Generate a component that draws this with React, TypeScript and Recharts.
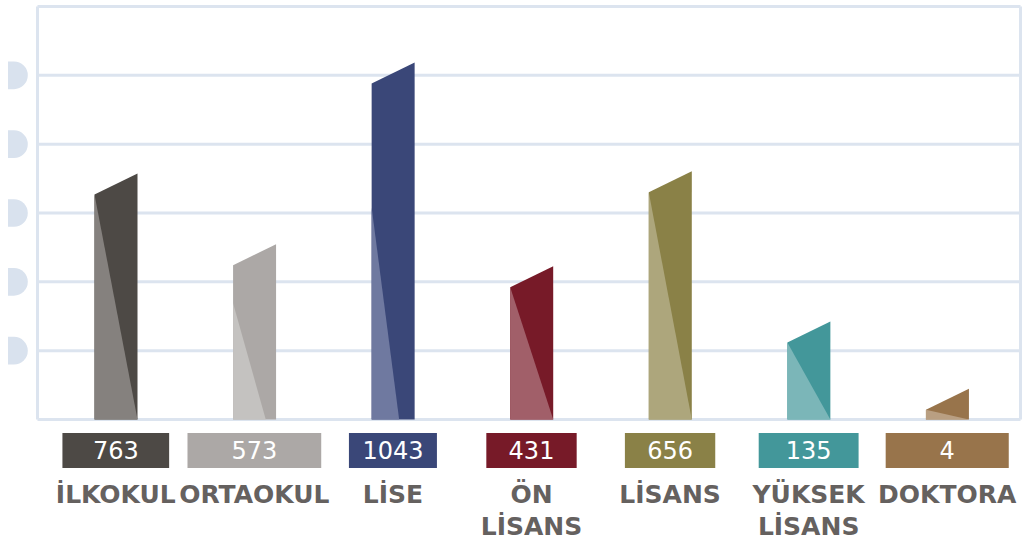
import React from 'react';
import { BarChart, Bar, XAxis, YAxis, CartesianGrid } from 'recharts';

const categories = ['İLKOKUL', 'ORTAOKUL', 'LİSE', 'ÖN LİSANS', 'LİSANS', 'YÜKSEK LİSANS', 'DOKTORA'];
const counts = [763, 573, 1043, 431, 656, 135, 4];
// drawn bar height (left edge) in grid units
const barLevels = [3.27, 2.24, 4.88, 1.92, 3.3, 1.12, 0.14];
// top of the lighter facet in grid units, and how far along the bottom it reaches
const shadeLevels = [3.27, 1.69, 3.08, 1.92, 3.3, 1.12, 0.14];
const shadeReach = [1, 0.76, 0.64, 1, 1, 1, 1];
const yTicks = [0, 1, 2, 3, 4, 5, 6];

const darkColors = ['#4d4945', '#aca8a6', '#3a4778', '#771a28', '#8a8147', '#43979a', '#98744b'];
const lightColors = ['#85817e', '#c4c2c0', '#6f79a0', '#a15f69', '#ada67c', '#7bb6b8', '#b99f82'];

const data = categories.map((c, i) => ({
  name: c,
  count: counts[i],
  level: barLevels[i],
  shade: shadeLevels[i],
  reach: shadeReach[i],
}));

const GRID = '#dce4ef';
const LABEL_FONT = 'bold 25px "DejaVu Sans"';

let ctx: CanvasRenderingContext2D | null = null;
function textWidth(s: string, font: string): number {
  if (!ctx) ctx = document.createElement('canvas').getContext('2d');
  if (!ctx) return s.length * 16;
  ctx.font = font;
  return ctx.measureText(s).width;
}

const BarShape = (props: any) => {
  const { x, y, width, height, payload, index } = props;
  if (height == null || isNaN(height)) return null;
  const bottom = y + height;
  const slant = 21;
  const sy = bottom - (height * payload.shade) / payload.level;
  const dark = `M${x},${y} L${x + width},${y - slant} L${x + width},${bottom} L${x},${bottom} Z`;
  const light = `M${x},${sy} L${x + width * payload.reach},${bottom} L${x},${bottom} Z`;
  return (
    <g>
      <path d={dark} fill={darkColors[index]} />
      <path d={light} fill={lightColors[index]} />
    </g>
  );
};

const XTick = (props: any) => {
  const { x, y, payload } = props;
  const i = categories.indexOf(payload.value);
  const lines = String(payload.value).split(' ');
  const maxW = Math.max(...lines.map((l) => textWidth(l, LABEL_FONT)));
  const boxW = Math.max(88, maxW * 0.89);
  return (
    <g>
      <rect x={x - boxW / 2} y={y + 13.5} width={boxW} height={35} fill={darkColors[i]} />
      <text
        x={x}
        y={y + 39.5}
        textAnchor="middle"
        fill="#ffffff"
        fontFamily='"DejaVu Sans"'
        fontSize={24}
      >
        {counts[i]}
      </text>
      {lines.map((l, k) => (
        <text
          key={k}
          x={x}
          y={y + 83.5 + k * 32}
          textAnchor="middle"
          fill="#65615f"
          fontFamily='"DejaVu Sans"'
          fontWeight="bold"
          fontSize={25}
        >
          {l}
        </text>
      ))}
    </g>
  );
};

const YTick = (props: any) => {
  const { y, payload } = props;
  if (payload.value === 0 || payload.value === 6) return <g />;
  const r = 13.8;
  const d = `M8,${y - r} L14,${y - r} A${r},${r} 0 0 1 14,${y + r} L8,${y + r} Z`;
  return <path d={d} fill="#d9e2ee" />;
};

export default function App() {
  return (
    <div style={{ position: 'absolute', left: 0, top: 0 }}>
      <BarChart
        width={1027}
        height={542}
        data={data}
        margin={{ top: 6.5, right: 6.5, left: 0, bottom: 0 }}
      >
        <CartesianGrid
          stroke={GRID}
          strokeWidth={3}
          verticalCoordinatesGenerator={({ offset, width }: any) => [
            offset.left,
            width - offset.right,
          ]}
        />
        <XAxis
          dataKey="name"
          type="category"
          axisLine={false}
          tickLine={false}
          tickSize={0}
          tickMargin={0}
          height={122.5}
          interval={0}
          padding={{ left: 9, right: 4 }}
          tick={<XTick />}
        />
        <YAxis
          type="number"
          domain={[0, 6]}
          ticks={yTicks}
          width={37.5}
          interval={0}
          axisLine={false}
          tickLine={false}
          tick={<YTick />}
        />
        <Bar dataKey="level" barSize={43} isAnimationActive={false} shape={<BarShape />} />
      </BarChart>
    </div>
  );
}
